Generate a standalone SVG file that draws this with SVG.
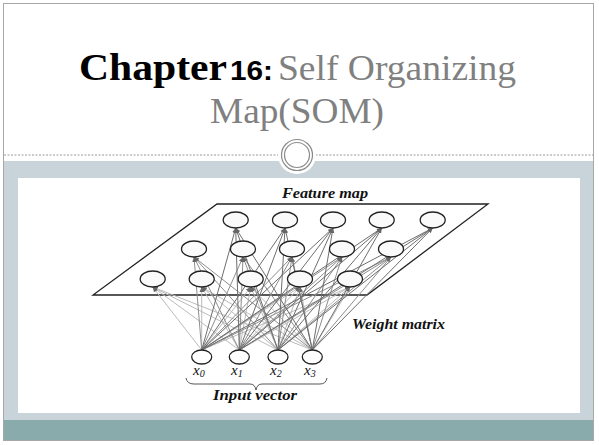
<svg xmlns="http://www.w3.org/2000/svg" width="599" height="445" viewBox="0 0 599 445">
<defs>
<style>
.fm{fill:#fafafa;stroke:#222;stroke-width:1.3}
.in{fill:#fff;stroke:#222;stroke-width:1.3}
.lab{font-family:"Liberation Serif",serif;font-style:italic;font-weight:bold;font-size:14px;fill:#111}
.xl{font-family:"Liberation Serif",serif;font-style:italic;font-size:15px;fill:#111}
.c1{stroke:#bcbcbc;stroke-width:1;fill:none}
.c2{stroke:#8e8e8e;stroke-width:1;fill:none}
.c3{stroke:#6e6e6e;stroke-width:1;fill:none}
</style>
<marker id="ah" markerWidth="6" markerHeight="6" refX="5" refY="3" orient="auto" markerUnits="userSpaceOnUse">
<path d="M0,0.8 L5,3 L0,5.2 Z" fill="#666"/>
</marker>
</defs>
<rect x="0" y="0" width="599" height="445" fill="#fff"/>
<rect x="3.5" y="3.5" width="590" height="437" fill="#fff" stroke="#a8a8a8" stroke-width="1"/>
<rect x="4" y="161" width="589" height="259" fill="#c8d3da"/>
<rect x="4" y="420" width="589" height="20" fill="#8aabab"/>
<rect x="18" y="178" width="562" height="235" fill="#fff"/>
<line x1="4" y1="155" x2="593" y2="155" stroke="#999" stroke-width="1" stroke-dasharray="2,1.5"/>
<g id="ornament">
<circle cx="297" cy="155" r="19" fill="#fff"/>
<circle cx="297" cy="155" r="15.5" fill="none" stroke="#8a8a8a" stroke-width="1.2"/>
<circle cx="297" cy="155" r="12.5" fill="none" stroke="#8a8a8a" stroke-width="1.2"/>
</g>
<g id="title">
<text x="79" y="80" font-family="Liberation Serif, serif" font-weight="bold" font-size="37" fill="#000" textLength="148" lengthAdjust="spacingAndGlyphs">Chapter</text>
<text x="230" y="80" font-family="Liberation Sans, sans-serif" font-weight="bold" font-size="27" fill="#000" textLength="43" lengthAdjust="spacingAndGlyphs">16:</text>
<text x="278" y="80" font-family="Liberation Serif, serif" font-size="35" fill="#808080" textLength="238" lengthAdjust="spacingAndGlyphs">Self Organizing</text>
<text x="297" y="123" text-anchor="middle" font-family="Liberation Serif, serif" font-size="35" fill="#808080" textLength="174" lengthAdjust="spacingAndGlyphs">Map(SOM)</text>
</g>
<g id="feature-plane">
<polygon points="217,204 488,204 367,295 93,295" fill="#fff" stroke="#222" stroke-width="1.3"/>
</g>
<g id="connectors">
<g class="c1" marker-end="url(#ah)">
<line x1="201.7" y1="350" x2="152.7" y2="287"/><line x1="239.3" y1="350" x2="152.7" y2="287"/><line x1="278" y1="350" x2="152.7" y2="287"/><line x1="312.3" y1="350" x2="152.7" y2="287"/>
<line x1="201.7" y1="350" x2="201.7" y2="287"/><line x1="239.3" y1="350" x2="201.7" y2="287"/><line x1="278" y1="350" x2="201.7" y2="287"/><line x1="312.3" y1="350" x2="201.7" y2="287"/>
<line x1="201.7" y1="350" x2="250.7" y2="287"/><line x1="239.3" y1="350" x2="250.7" y2="287"/><line x1="278" y1="350" x2="250.7" y2="287"/><line x1="312.3" y1="350" x2="250.7" y2="287"/>
<line x1="201.7" y1="350" x2="300" y2="287"/><line x1="239.3" y1="350" x2="300" y2="287"/><line x1="278" y1="350" x2="300" y2="287"/><line x1="312.3" y1="350" x2="300" y2="287"/>
<line x1="201.7" y1="350" x2="350" y2="287"/><line x1="239.3" y1="350" x2="350" y2="287"/><line x1="278" y1="350" x2="350" y2="287"/><line x1="312.3" y1="350" x2="350" y2="287"/>
</g>
<g class="c2" marker-end="url(#ah)">
<line x1="201.7" y1="350" x2="194" y2="257"/><line x1="239.3" y1="350" x2="194" y2="257"/><line x1="278" y1="350" x2="194" y2="257"/><line x1="312.3" y1="350" x2="194" y2="257"/>
<line x1="201.7" y1="350" x2="243" y2="257"/><line x1="239.3" y1="350" x2="243" y2="257"/><line x1="278" y1="350" x2="243" y2="257"/><line x1="312.3" y1="350" x2="243" y2="257"/>
<line x1="201.7" y1="350" x2="292" y2="257"/><line x1="239.3" y1="350" x2="292" y2="257"/><line x1="278" y1="350" x2="292" y2="257"/><line x1="312.3" y1="350" x2="292" y2="257"/>
<line x1="201.7" y1="350" x2="342" y2="257"/><line x1="239.3" y1="350" x2="342" y2="257"/><line x1="278" y1="350" x2="342" y2="257"/><line x1="312.3" y1="350" x2="342" y2="257"/>
<line x1="201.7" y1="350" x2="391" y2="257"/><line x1="239.3" y1="350" x2="391" y2="257"/><line x1="278" y1="350" x2="391" y2="257"/><line x1="312.3" y1="350" x2="391" y2="257"/>
</g>
<g class="c3" marker-end="url(#ah)">
<line x1="201.7" y1="350" x2="235.7" y2="228"/><line x1="239.3" y1="350" x2="235.7" y2="228"/><line x1="278" y1="350" x2="235.7" y2="228"/><line x1="312.3" y1="350" x2="235.7" y2="228"/>
<line x1="201.7" y1="350" x2="285" y2="228"/><line x1="239.3" y1="350" x2="285" y2="228"/><line x1="278" y1="350" x2="285" y2="228"/><line x1="312.3" y1="350" x2="285" y2="228"/>
<line x1="201.7" y1="350" x2="333" y2="228"/><line x1="239.3" y1="350" x2="333" y2="228"/><line x1="278" y1="350" x2="333" y2="228"/><line x1="312.3" y1="350" x2="333" y2="228"/>
<line x1="201.7" y1="350" x2="381.7" y2="228"/><line x1="239.3" y1="350" x2="381.7" y2="228"/><line x1="278" y1="350" x2="381.7" y2="228"/><line x1="312.3" y1="350" x2="381.7" y2="228"/>
<line x1="201.7" y1="350" x2="432.7" y2="228"/><line x1="239.3" y1="350" x2="432.7" y2="228"/><line x1="278" y1="350" x2="432.7" y2="228"/><line x1="312.3" y1="350" x2="432.7" y2="228"/>
</g>
</g>
<g id="map-nodes">
<g id="n-0-0"><ellipse class="fm" cx="235.7" cy="220" rx="12.5" ry="8"/></g>
<g id="n-0-1"><ellipse class="fm" cx="285" cy="220" rx="12.5" ry="8"/></g>
<g id="n-0-2"><ellipse class="fm" cx="333" cy="220" rx="12.5" ry="8"/></g>
<g id="n-0-3"><ellipse class="fm" cx="381.7" cy="220" rx="12.5" ry="8"/></g>
<g id="n-0-4"><ellipse class="fm" cx="432.7" cy="220" rx="12.5" ry="8"/></g>
<g id="n-1-0"><ellipse class="fm" cx="194" cy="249" rx="12.5" ry="8"/></g>
<g id="n-1-1"><ellipse class="fm" cx="243" cy="249" rx="12.5" ry="8"/></g>
<g id="n-1-2"><ellipse class="fm" cx="292" cy="249" rx="12.5" ry="8"/></g>
<g id="n-1-3"><ellipse class="fm" cx="342" cy="249" rx="12.5" ry="8"/></g>
<g id="n-1-4"><ellipse class="fm" cx="391" cy="249" rx="12.5" ry="8"/></g>
<g id="n-2-0"><ellipse class="fm" cx="152.7" cy="279" rx="12.5" ry="8"/></g>
<g id="n-2-1"><ellipse class="fm" cx="201.7" cy="279" rx="12.5" ry="8"/></g>
<g id="n-2-2"><ellipse class="fm" cx="250.7" cy="279" rx="12.5" ry="8"/></g>
<g id="n-2-3"><ellipse class="fm" cx="300" cy="279" rx="12.5" ry="8"/></g>
<g id="n-2-4"><ellipse class="fm" cx="350" cy="279" rx="12.5" ry="8"/></g>
</g>
<g id="inputs">
<g id="x0"><ellipse class="in" cx="201.7" cy="357" rx="10" ry="7"/><text class="xl" x="193" y="375">x<tspan font-size="10" dy="2">0</tspan></text></g>
<g id="x1"><ellipse class="in" cx="239.3" cy="357" rx="10" ry="7"/><text class="xl" x="231" y="375">x<tspan font-size="10" dy="2">1</tspan></text></g>
<g id="x2"><ellipse class="in" cx="278" cy="357" rx="10" ry="7"/><text class="xl" x="270" y="375">x<tspan font-size="10" dy="2">2</tspan></text></g>
<g id="x3"><ellipse class="in" cx="312.3" cy="357" rx="10" ry="7"/><text class="xl" x="304" y="375">x<tspan font-size="10" dy="2">3</tspan></text></g>
</g>
<g id="labels">
<text class="lab" x="282" y="198" textLength="86" lengthAdjust="spacingAndGlyphs">Feature map</text>
<text class="lab" x="352" y="329" textLength="93" lengthAdjust="spacingAndGlyphs">Weight matrix</text>
<path d="M186,378 Q187,384 194,384 L250,384 Q255,384 256,390 Q257,384 262,384 L320,384 Q326,384 327,378" fill="none" stroke="#444" stroke-width="0.9"/>
<text class="lab" x="213" y="400" textLength="84" lengthAdjust="spacingAndGlyphs">Input vector</text>
</g>
</svg>
